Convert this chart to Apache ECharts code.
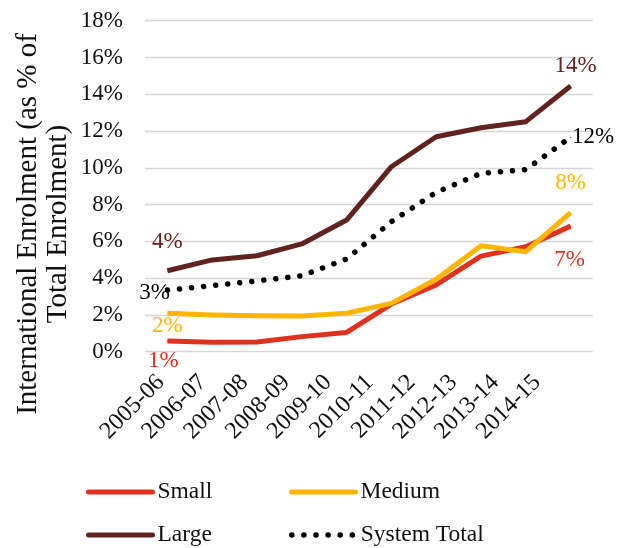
<!DOCTYPE html>
<html>
<head>
<meta charset="utf-8">
<script src="https://cdn.jsdelivr.net/npm/echarts@6/dist/echarts.min.js"></script>
<style>
html,body{margin:0;padding:0;background:#fff;}
#chart{width:628px;height:548px;}
</style>
</head>
<body>
<div id="chart"></div>
<script>
var categories = ['2005-06','2006-07','2007-08','2008-09','2009-10','2010-11','2011-12','2012-13','2013-14','2014-15'];
var small  = [0.58, 0.51, 0.53, 0.82, 1.05, 2.59, 3.63, 5.20, 5.71, 6.83];
var medium = [2.09, 2.00, 1.96, 1.94, 2.09, 2.63, 3.94, 5.76, 5.44, 7.56];
var large  = [4.40, 4.99, 5.22, 5.86, 7.16, 10.06, 11.69, 12.18, 12.51, 14.45];
var systemTotal = [3.35, 3.59, 3.85, 4.13, 5.04, 7.07, 8.67, 9.70, 9.90, 11.66];
var yTicks = [0, 18, 2]; // min, max, interval

var FONT = '"Liberation Serif", "DejaVu Serif", serif';
var COLORS = {small:'#E0301E', medium:'#FFB600', large:'#602320', total:'#000000'};

function withEndLabels(values, color, firstLabel, lastLabel) {
  var n = values.length;
  return values.map(function (v, i) {
    if (i === 0 || i === n - 1) {
      var cfg = i === 0 ? firstLabel : lastLabel;
      return {
        value: v,
        symbol: 'circle',
        symbolSize: 1,
        label: Object.assign({
          show: true,
          color: color,
          fontFamily: FONT,
          fontSize: 23,
          formatter: function (p) { return Math.round(p.value) + '%'; }
        }, cfg)
      };
    }
    return v;
  });
}

var chart = echarts.init(document.getElementById('chart'), null, {renderer: 'canvas'});

function legendAt(name, left, top, lineStyle) {
  return {
    data: [name],
    left: left,
    top: top,
    orient: 'horizontal',
    itemWidth: 64,
    itemHeight: 14,
    padding: 0,
    selectedMode: false,
    textStyle: {fontFamily: FONT, fontSize: 23.5, color: '#111'},
    itemStyle: {color: 'rgba(0,0,0,0)', borderWidth: 0, opacity: 0},
    lineStyle: lineStyle
  };
}

var option = {
  animation: false,
  backgroundColor: '#fff',
  grid: [
    {left: 145, right: 35, top: 20.7, bottom: 196.3},
    {left: 140, right: 70, top: 20.7, bottom: 196.3}
  ],
  graphic: [{
    type: 'text',
    x: 43,
    y: 224,
    rotation: Math.PI / 2,
    style: {
      text: 'International Enrolment (as % of\nTotal Enrolment)',
      font: '29px ' + FONT,
      fill: '#111',
      align: 'center',
      verticalAlign: 'middle',
      lineHeight: 30
    }
  }],
  legend: [
    legendAt('Small', 86, 480, {width: 5, cap: 'round'}),
    legendAt('Medium', 289, 480, {width: 5, cap: 'round'}),
    legendAt('Large', 86, 523, {width: 5, cap: 'round'}),
    legendAt('System Total', 289, 523, {width: 5.5, type: [0.1, 12], cap: 'round'})
  ],
  xAxis: [{
    type: 'category',
    gridIndex: 0,
    data: categories,
    boundaryGap: true,
    axisLine: {show: false},
    axisTick: {show: false},
    axisLabel: {show: false},
    splitLine: {show: false}
  }, {
    type: 'category',
    gridIndex: 1,
    data: categories,
    boundaryGap: true,
    axisLine: {show: false},
    axisTick: {show: false},
    splitLine: {show: false},
    axisLabel: {
      interval: 0,
      rotate: 45,
      margin: 27,
      fontFamily: FONT,
      fontSize: 24,
      color: '#111'
    }
  }],
  yAxis: [{
    type: 'value',
    gridIndex: 0,
    min: yTicks[0],
    max: yTicks[1],
    interval: yTicks[2],
    axisLine: {show: false},
    axisTick: {show: false},
    axisLabel: {
      formatter: '{value}%',
      margin: 22,
      fontFamily: FONT,
      fontSize: 23,
      color: '#111'
    },
    splitLine: {lineStyle: {color: '#d6d6d6', width: 1.3}}
  }, {
    type: 'value',
    gridIndex: 1,
    show: false,
    min: 0,
    max: 18,
    splitLine: {show: false}
  }],
  series: [{
    name: 'Small',
    type: 'line',
    xAxisIndex: 0, yAxisIndex: 0,
    symbol: 'none',
    color: COLORS.small,
    lineStyle: {width: 5, color: COLORS.small, join: 'round'},
    data: withEndLabels(small, COLORS.small,
      {position: 'bottom', distance: 8, offset: [-4, 0]},
      {position: 'bottom', distance: 22, offset: [-1, 0]}),
    z: 3
  }, {
    name: 'Medium',
    type: 'line',
    xAxisIndex: 0, yAxisIndex: 0,
    symbol: 'none',
    color: COLORS.medium,
    lineStyle: {width: 5, color: COLORS.medium, join: 'round'},
    data: withEndLabels(medium, COLORS.medium,
      {position: 'bottom', distance: 1, offset: [0, 0]},
      {position: 'top', distance: 18, offset: [0, 0]}),
    z: 4
  }, {
    name: 'Large',
    type: 'line',
    xAxisIndex: 0, yAxisIndex: 0,
    symbol: 'none',
    color: COLORS.large,
    lineStyle: {width: 5, color: COLORS.large, join: 'round'},
    data: withEndLabels(large, COLORS.large,
      {position: 'top', distance: 17, offset: [0, 0]},
      {position: 'top', distance: 8, offset: [5, 0]}),
    z: 5
  }, {
    name: 'System Total',
    type: 'line',
    xAxisIndex: 0, yAxisIndex: 0,
    symbol: 'none',
    color: COLORS.total,
    lineStyle: {width: 5.5, color: COLORS.total, type: [0.1, 12], cap: 'round'},
    data: withEndLabels(systemTotal, COLORS.total,
      {position: 'left', distance: 0, offset: [3, 3]},
      {position: 'right', distance: 1, offset: [0, 0]}),
    z: 6
  }]
};

chart.setOption(option);
</script>
</body>
</html>
